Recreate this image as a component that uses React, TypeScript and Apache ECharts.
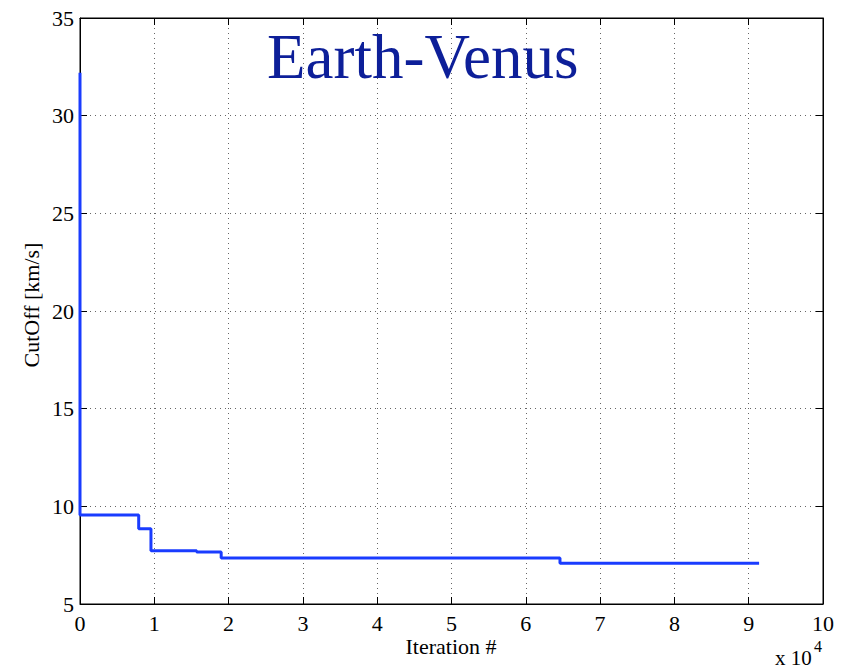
import React, { useEffect, useRef } from "react";
import * as echarts from "echarts";

const iterations = [0, 0, 0.79, 0.955, 1.57, 1.9, 6.46, 9.14];
const cutoff = [32.2, 9.55, 8.85, 7.72, 7.66, 7.35, 7.08, 7.08];
const xTicks = [0, 1, 2, 3, 4, 5, 6, 7, 8, 9, 10];
const yTicks = [5, 10, 15, 20, 25, 30, 35];
const titleText = "Earth-Venus";
const xName = "Iteration #";
const yName = "CutOff [km/s]";

const FONT = "Liberation Serif, DejaVu Serif, serif";

export default function App() {
  const ref = useRef<HTMLDivElement>(null);
  useEffect(() => {
    if (!ref.current) return;
    const chart = echarts.init(ref.current, undefined, { renderer: "svg" });
    const data = iterations.map((x, i) => [x, cutoff[i]]);
    const axisCommon = {
      axisLine: { show: true, onZero: false, lineStyle: { color: "#000", width: 1 } },
      axisTick: { show: true, inside: true, length: 7, lineStyle: { color: "#000" } },
    };
    chart.setOption({
      animation: false,
      backgroundColor: "#fff",
      grid: {
        left: 80, right: 20, top: 18, bottom: 62,
        outerBoundsMode: "none", containLabel: false,
        show: true, borderColor: "#000", borderWidth: 1, backgroundColor: "transparent",
      },
      xAxis: [
        {
          type: "value",
          min: xTicks[0],
          max: xTicks[xTicks.length - 1],
          interval: 1,
          position: "bottom",
          ...axisCommon,
          axisLabel: { color: "#000", fontFamily: FONT, fontSize: 22, margin: 8 },
          splitLine: { show: true, lineStyle: { color: "#666", type: [1, 4], width: 1 } },
        },
        {
          type: "value",
          min: xTicks[0],
          max: xTicks[xTicks.length - 1],
          interval: 1,
          position: "top",
          ...axisCommon,
          axisLabel: { show: false },
          splitLine: { show: false },
        },
      ],
      yAxis: [
        {
          type: "value",
          min: yTicks[0],
          max: yTicks[yTicks.length - 1],
          interval: 5,
          position: "left",
          ...axisCommon,
          axisLabel: { color: "#000", fontFamily: FONT, fontSize: 22, margin: 6 },
          splitLine: { show: true, lineStyle: { color: "#666", type: [1, 4], width: 1 } },
        },
        {
          type: "value",
          min: yTicks[0],
          max: yTicks[yTicks.length - 1],
          interval: 5,
          position: "right",
          ...axisCommon,
          axisLabel: { show: false },
          splitLine: { show: false },
        },
      ],
      series: [
        {
          type: "line",
          data,
          step: "end",
          showSymbol: false,
          symbol: "none",
          lineStyle: { color: "#1a3cff", width: 3 },
          z: 5,
        },
      ],
      graphic: [
        {
          type: "text",
          x: 267,
          y: 57,
          style: { text: titleText, fill: "#0d1f99", font: `63px ${FONT}`, verticalAlign: "middle", align: "left" },
          z: 10,
        },
        {
          type: "text",
          x: 451,
          y: 646,
          style: { text: xName, fill: "#000", font: `22px ${FONT}`, verticalAlign: "middle", align: "center" },
        },
        {
          type: "text",
          x: 31,
          y: 305,
          rotation: Math.PI / 2,
          style: { text: yName, fill: "#000", font: `22px ${FONT}`, verticalAlign: "middle", align: "center" },
        },
        {
          type: "text",
          x: 775,
          y: 658,
          style: { text: "x 10", fill: "#000", font: `21px ${FONT}`, verticalAlign: "middle", align: "left" },
        },
        {
          type: "text",
          x: 814,
          y: 646,
          style: { text: "4", fill: "#000", font: `16px ${FONT}`, verticalAlign: "middle", align: "left" },
        },
      ],
    });
    return () => chart.dispose();
  }, []);
  return <div ref={ref} style={{ width: 843, height: 666, position: "absolute", left: 0, top: 0 }} />;
}
